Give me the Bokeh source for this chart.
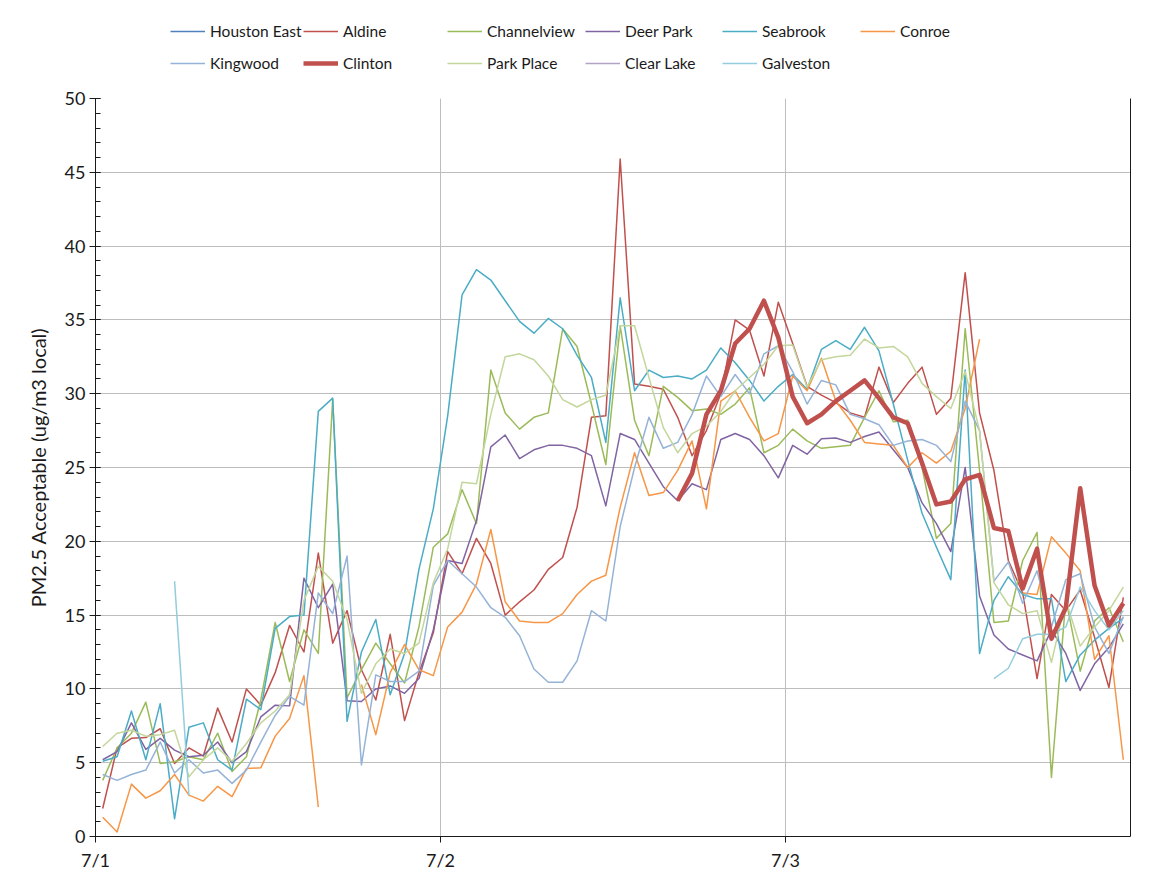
import math
from bokeh.plotting import figure
from bokeh.layouts import column
from bokeh.models import Legend, LegendItem, FixedTicker, Range1d, LinearAxis
from bokeh.embed import file_html
from bokeh.resources import INLINE

nan = float("nan")

# hourly index 0..71 over 7/1 - 7/3 (values plotted at mid-hour)
hours = list(range(72))
day_ticks = [0, 1, 2]
day_labels = ["7/1", "7/2", "7/3"]

houston_east = [nan] * 72

aldine = [1.9, 6.0, 6.65, 6.7, 7.3, 4.95, 6.0, 5.45, 8.7, 6.4, 10.0, 8.9,
          11.1, 14.3, 12.5, 19.2, 13.1, 15.3, 11.3, 9.25, 13.7, 7.85, 11.1, 13.8,
          19.3, 17.8, 20.2, 18.5, 15.0, 15.9, 16.7, 18.1, 18.9, 22.3, 28.4, 28.5,
          45.9, 30.65, 30.5, 30.3, 28.4, 25.8, 27.5, 30.0, 35.0, 34.3, 31.2, 36.2,
          33.4, 30.5, 29.9, 29.4, 28.7, 28.4, 31.8, 29.4, 30.7, 31.8, 28.6, 29.7,
          38.2, 28.7, 24.8, 18.7, 16.5, 10.7, 16.4, 15.3, 16.7, 13.5, 10.1, 16.2]

channelview = [3.8, 6.0, 7.0, 9.1, 4.95, 5.07, 5.4, 5.2, 7.0, 4.4, 5.4, 9.25,
               14.5, 10.5, 14.0, 12.4, 29.6, 9.4, 11.3, 13.1, 11.7, 10.4, 14.2, 19.6,
               20.5, 23.5, 21.2, 31.6, 28.7, 27.6, 28.4, 28.7, 34.4, 33.2, 29.3, 25.2,
               34.6, 28.2, 25.8, 30.5, 29.75, 28.85, 28.96, 28.6, 29.3, 30.4, 26.0, 26.5,
               27.6, 26.8, 26.3, 26.4, 26.5, 28.4, 30.2, 28.1, 28.2, 25.0, 20.2, 21.2,
               34.4, 24.8, 14.5, 14.6, 18.7, 20.6, 4.0, 16.1, 11.2, 14.6, 15.5, 13.2]

deer_park = [5.2, 5.75, 7.7, 5.9, 6.65, 5.85, 5.4, 5.5, 6.4, 5.0, 5.75, 8.1,
             8.9, 8.85, 17.5, 15.5, 17.1, 9.2, 9.15, 10.0, 10.2, 9.7, 10.7, 14.0,
             18.7, 18.5, 21.4, 26.4, 27.2, 25.6, 26.2, 26.5, 26.5, 26.3, 25.8, 22.4,
             27.3, 26.9, 25.3, 23.7, 22.75, 23.9, 23.5, 26.9, 27.3, 26.9, 25.8, 24.3,
             26.5, 25.9, 26.95, 27.0, 26.7, 27.1, 27.4, 26.2, 25.0, 22.6, 21.2, 19.3,
             25.0, 16.3, 13.65, 12.7, 12.3, 11.9, 14.0, 12.4, 9.9, 11.7, 12.8, 14.4]

seabrook = [5.1, 5.4, 8.5, 5.2, 9.0, 1.2, 7.4, 7.7, 5.2, 4.5, 9.3, 8.6,
            14.1, 14.9, 15.0, 28.8, 29.7, 7.8, 12.5, 14.7, 9.6, 12.4, 18.1, 22.2,
            28.5, 36.7, 38.4, 37.7, 36.3, 34.9, 34.1, 35.1, 34.4, 32.6, 31.1, 26.7,
            36.5, 30.2, 31.6, 31.1, 31.2, 31.0, 31.6, 33.1, 32.1, 30.9, 29.5, 30.5,
            31.3, 30.3, 33.0, 33.6, 33.0, 34.5, 32.9, 29.3, 25.5, 21.9, 19.6, 17.4,
            31.6, 12.4, 16.0, 17.6, 16.4, 16.1, 16.1, 10.5, 12.3, 13.3, 14.1, 14.8]

conroe = [1.3, 0.3, 3.55, 2.6, 3.1, 4.2, 2.8, 2.4, 3.4, 2.7, 4.6, 4.65,
          6.8, 8.0, 10.9, 2.0, nan, nan, 10.3, 6.9, 11.1, 13.0, 11.3, 10.9,
          14.2, 15.2, 17.1, 20.8, 15.9, 14.6, 14.5, 14.5, 15.1, 16.4, 17.3, 17.7,
          22.3, 26.0, 23.1, 23.3, 24.8, 26.8, 22.2, 29.5, 30.2, 28.4, 26.8, 27.3,
          31.2, 30.2, 32.4, 29.5, 28.2, 26.7, 26.6, 26.5, 25.0, 26.0, 25.3, 26.1,
          29.0, 33.7, nan, nan, 16.5, 16.4, 20.3, 19.2, 18.0, 12.0, 13.6, 5.2]

kingwood = [4.2, 3.8, 4.2, 4.5, 6.4, 4.3, 5.2, 4.3, 4.5, 3.6, 4.5, 6.4,
            8.2, 9.5, 8.9, 16.5, 15.1, 19.0, 4.85, 10.95, 10.5, 10.5, 11.2, 17.0,
            18.7, 17.8, 16.9, 15.5, 14.85, 13.6, 11.35, 10.45, 10.45, 11.9, 15.3, 14.6,
            21.0, 25.0, 28.4, 26.3, 26.7, 28.6, 31.2, 29.8, 31.3, 30.0, 32.7, 33.25,
            31.5, 29.3, 30.9, 30.6, 28.6, 28.3, 27.9, 26.5, 26.8, 26.9, 26.5, 25.4,
            29.5, 27.5, 17.3, 18.6, 15.8, 18.0, 14.2, 17.4, 17.8, 14.2, 12.4, 14.9]

clinton = [nan] * 40 + [22.75, 24.6, 28.6, 30.2, 33.4, 34.4, 36.3, 33.8,
                        29.8, 28.0, 28.6, 29.5, 30.2, 30.9, 29.7, 28.4, 28.0, 25.3, 22.5, 22.7,
                        24.2, 24.5, 20.9, 20.7, 16.8, 19.5, 13.4, 15.5, 23.6, 17.0, 14.3, 15.8]

park_place = [6.1, 7.0, 7.2, 6.8, 6.9, 7.2, 4.05, 5.2, 6.0, 5.1, 6.3, 7.7,
              8.5, 9.6, 16.0, 18.3, 17.3, 14.7, 9.7, 11.7, 12.7, 12.4, 13.1, 17.2,
              19.5, 24.0, 23.9, 28.6, 32.5, 32.7, 32.3, 31.2, 29.6, 29.1, 29.6, 29.9,
              34.6, 34.6, 31.1, 27.7, 26.0, 27.3, 27.8, 28.8, 30.2, 31.1, 32.0, 33.25,
              33.3, 30.45, 32.3, 32.5, 32.6, 33.7, 33.1, 33.2, 32.5, 30.7, 29.8, 29.0,
              31.5, 27.5, 17.2, 15.7, 15.1, 15.3, 11.8, 16.0, 12.9, 14.2, 15.3, 16.9]

clear_lake = [nan] * 72

galveston = [nan] * 5 + [17.3, 2.8] + [nan] * 55 + [10.7, 11.4, 13.4, 13.7, 13.7, 14.2, 16.9, 15.3, 14.0, 15.3]

series = [
    ("Houston East", houston_east, "#4F81BD", 1.5),
    ("Aldine", aldine, "#C0504D", 1.5),
    ("Channelview", channelview, "#9BBB59", 1.5),
    ("Deer Park", deer_park, "#8064A2", 1.5),
    ("Seabrook", seabrook, "#4BACC6", 1.5),
    ("Conroe", conroe, "#F79646", 1.5),
    ("Kingwood", kingwood, "#95B3D7", 1.5),
    ("Clinton", clinton, "#C0504D", 4.5),
    ("Park Place", park_place, "#C3D69B", 1.5),
    ("Clear Lake", clear_lake, "#B3A2C7", 1.5),
    ("Galveston", galveston, "#93CDDD", 1.5),
]

FONT = "Lato"
TXT = "#1a1a1a"
x = [(h + 0.5) / 24.0 for h in hours]

# ---------------- main chart ----------------
p = figure(width=1140, height=788, output_backend="svg", toolbar_location=None,
           x_range=Range1d(0, 3), y_range=Range1d(0, 50),
           min_border_left=95, min_border_right=10, min_border_top=10, min_border_bottom=40)
p.background_fill_color = "white"
p.border_fill_color = "white"
p.outline_line_color = None

draw_order = [0, 1, 2, 3, 4, 5, 6, 8, 9, 10, 7]
for k in draw_order:
    name, vals, col, lw = series[k]
    p.line(x, vals, line_color=col, line_width=lw, line_join="round")

p.xaxis.ticker = FixedTicker(ticks=day_ticks)
p.xaxis.major_label_overrides = {t: l for t, l in zip(day_ticks, day_labels)}
p.xaxis.major_tick_out = 6
p.xaxis.major_tick_in = 0
p.yaxis.ticker = FixedTicker(ticks=list(range(0, 51, 5)), minor_ticks=list(range(0, 51)))
p.yaxis.major_tick_out = 6
p.yaxis.major_tick_in = 5
p.yaxis.minor_tick_in = 5
p.yaxis.minor_tick_out = 0
for ax in (p.xaxis, p.yaxis):
    ax.axis_line_color = TXT
    ax.major_tick_line_color = TXT
    ax.minor_tick_line_color = TXT
    ax.major_label_text_font = FONT
    ax.major_label_text_font_size = "18px"
    ax.major_label_text_color = TXT
p.xaxis.minor_tick_line_color = None
p.xaxis.major_label_standoff = 6
p.yaxis.major_label_standoff = 4
p.yaxis.axis_label = "PM2.5 Acceptable (ug/m3 local)"
p.yaxis.axis_label_text_font = FONT
p.yaxis.axis_label_text_font_size = "20px"
p.yaxis.axis_label_text_font_style = "normal"
p.yaxis.axis_label_text_color = TXT
p.yaxis.axis_label_standoff = 12

right = LinearAxis(ticker=FixedTicker(ticks=[]), axis_line_color=TXT,
                   major_tick_line_color=None, minor_tick_line_color=None,
                   major_label_text_font_size="0px")
p.add_layout(right, "right")

p.xgrid.ticker = FixedTicker(ticks=[1, 2])
p.ygrid.ticker = FixedTicker(ticks=list(range(5, 50, 5)))
p.xgrid.grid_line_color = "#BDBDBD"
p.ygrid.grid_line_color = "#BDBDBD"

# ---------------- legend strip above (frame aligned with the chart frame) ----------------
lg = figure(width=1140, height=88, output_backend="svg", toolbar_location=None,
            x_range=Range1d(0, 1), y_range=Range1d(0, 1),
            x_axis_type=None, y_axis_type=None, min_border=0)
lg.outline_line_color = None
lg.grid.visible = False
lg.background_fill_color = "white"
lg.border_fill_color = "white"

col_x = [75, 208, 352, 490, 627, 765]   # offsets from the chart's left frame edge
row_y = [48, 16]
for k, (name, vals, col, lw) in enumerate(series):
    r, c = divmod(k, 6)
    dummy = lg.line([nan, nan], [nan, nan], line_color=col, line_width=lw)
    leg = Legend(items=[LegendItem(label=name, renderers=[dummy])],
                 location=(col_x[c], row_y[r]), orientation="horizontal",
                 padding=0, margin=0, spacing=0, glyph_width=35, glyph_height=16,
                 label_height=16, label_standoff=5,
                 label_text_font=FONT, label_text_font_size="15.5px",
                 label_text_color=TXT,
                 background_fill_alpha=0, border_line_color=None)
    lg.add_layout(leg)

layout = column(lg, p, spacing=0)
open("out.html", "w").write(file_html(layout, INLINE))
